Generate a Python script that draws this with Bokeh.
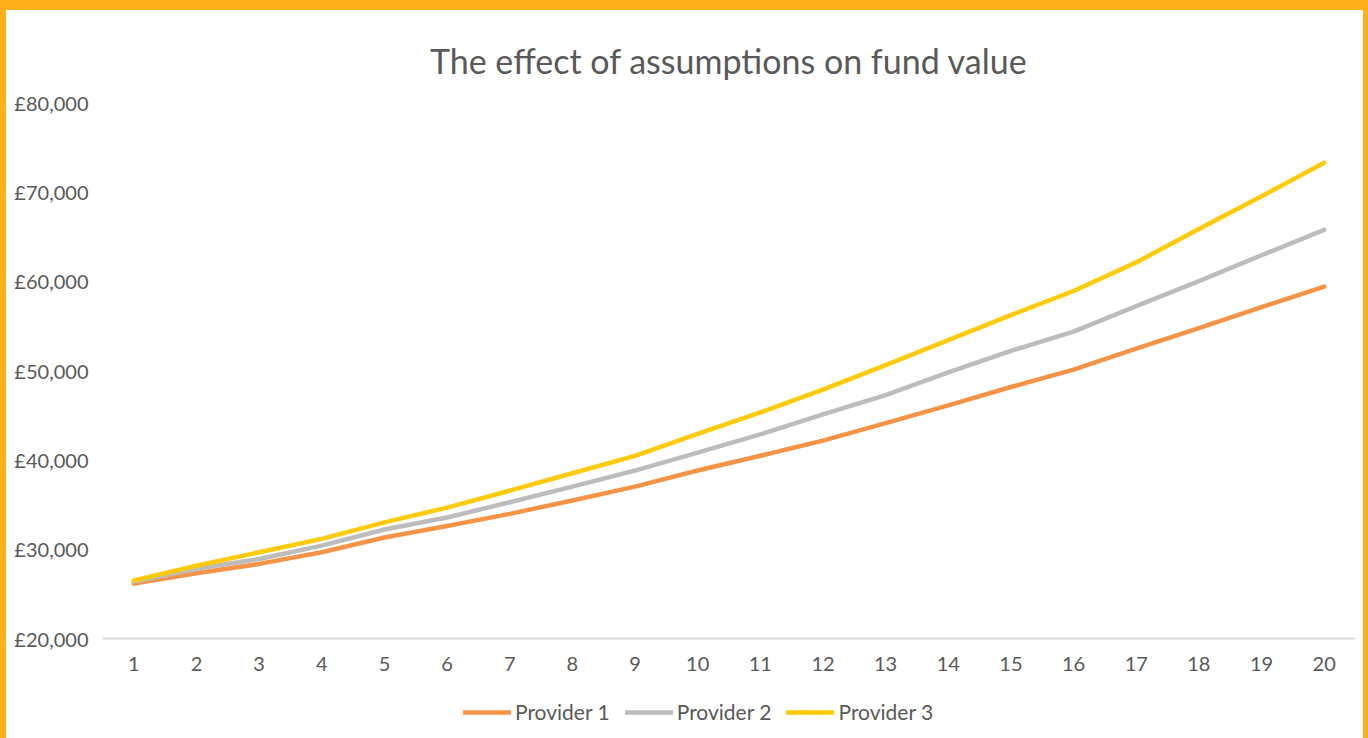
from bokeh.plotting import figure
from bokeh.models import FixedTicker, Legend, LegendItem, Range1d
from bokeh.embed import file_html
from bokeh.resources import INLINE

years = list(range(1, 21))
provider_1 = [26150, 27300, 28350, 29650, 31300, 32600, 33950, 35450, 37000, 38800,
              40450, 42150, 44100, 46100, 48150, 50100, 52450, 54750, 57100, 59400]
provider_2 = [26350, 27800, 28900, 30400, 32200, 33550, 35250, 37000, 38800, 40800,
              42850, 45100, 47250, 49800, 52200, 54350, 57200, 60000, 62900, 65750]
provider_3 = [26490, 28150, 29650, 31150, 33000, 34650, 36550, 38500, 40450, 42900,
              45300, 47850, 50600, 53400, 56200, 58900, 62100, 65850, 69500, 73250]
series_names = ["Provider 1", "Provider 2", "Provider 3"]
y_ticks = [20000, 30000, 40000, 50000, 60000, 70000, 80000]
y_tick_labels = ["£20,000", "£30,000", "£40,000", "£50,000", "£60,000", "£70,000", "£80,000"]
title_text = "The effect of assumptions on fund value"

FONT = "Lato"
TXT = "#595959"
colors = ["#F59447", "#BCBCBC", "#FFCA08"]

# layout geometry (pixels inside the figure)
W, H = 1357, 728
FRAME_TOP, AXIS_PX, FRAME_BOTTOM = 92, 628, 728
y_lo, y_hi = y_ticks[0], y_ticks[-1]
y_start = y_hi - (y_hi - y_lo) * (FRAME_BOTTOM - FRAME_TOP) / (AXIS_PX - FRAME_TOP)

p = figure(width=W, height=H, output_backend="svg", toolbar_location=None,
           x_range=Range1d(0.5, 20.5), y_range=Range1d(y_start, y_hi),
           min_border_left=96, min_border_right=8, min_border_top=FRAME_TOP,
           min_border_bottom=0)
p.background_fill_color = "white"
p.border_fill_color = "white"
p.outline_line_color = None
p.grid.visible = False
p.styles = {"background-color": "white"}

p.title.text = title_text
p.title.text_font = FONT
p.title.text_font_size = "34px"
p.title.text_font_style = "normal"
p.title.text_color = TXT
p.title.align = "center"
p.title.vertical_align = "top"
p.title.text_line_height = 0.9
p.title.standoff = 40

renderers = []
for vals, c in zip([provider_1, provider_2, provider_3], colors):
    r = p.line(years, vals, line_color=c, line_width=4.5, line_cap="round", line_join="round")
    renderers.append(r)

xa = p.xaxis[0]
xa.fixed_location = y_lo
xa.ticker = FixedTicker(ticks=years)
xa.axis_line_color = "#D9D9D9"
xa.axis_line_width = 2
xa.major_tick_line_color = None
xa.minor_tick_line_color = None
xa.major_label_text_font = FONT
xa.major_label_text_font_size = "20px"
xa.major_label_text_color = TXT
xa.major_label_standoff = 12

ya = p.yaxis[0]
ya.ticker = FixedTicker(ticks=y_ticks)
ya.major_label_overrides = {t: l for t, l in zip(y_ticks, y_tick_labels)}
ya.axis_line_color = None
ya.major_tick_line_color = None
ya.minor_tick_line_color = None
ya.major_label_text_font = FONT
ya.major_label_text_font_size = "20px"
ya.major_label_text_color = TXT
ya.major_label_standoff = 8

legend = Legend(items=[LegendItem(label=n, renderers=[r]) for n, r in zip(series_names, renderers)],
                orientation="horizontal", location=(361, 14),
                glyph_width=48, glyph_height=20, label_standoff=4, spacing=15,
                padding=0, margin=0, border_line_color=None, background_fill_alpha=0,
                label_text_font=FONT, label_text_font_size="21px", label_text_color=TXT)
p.add_layout(legend, "center")

html = file_html(p, INLINE)
html = html.replace("</head>",
                    "<style>body {background:#FDB01A !important; padding:10px 5px 0 6px !important;}</style></head>", 1)
open("out.html", "w").write(html)
